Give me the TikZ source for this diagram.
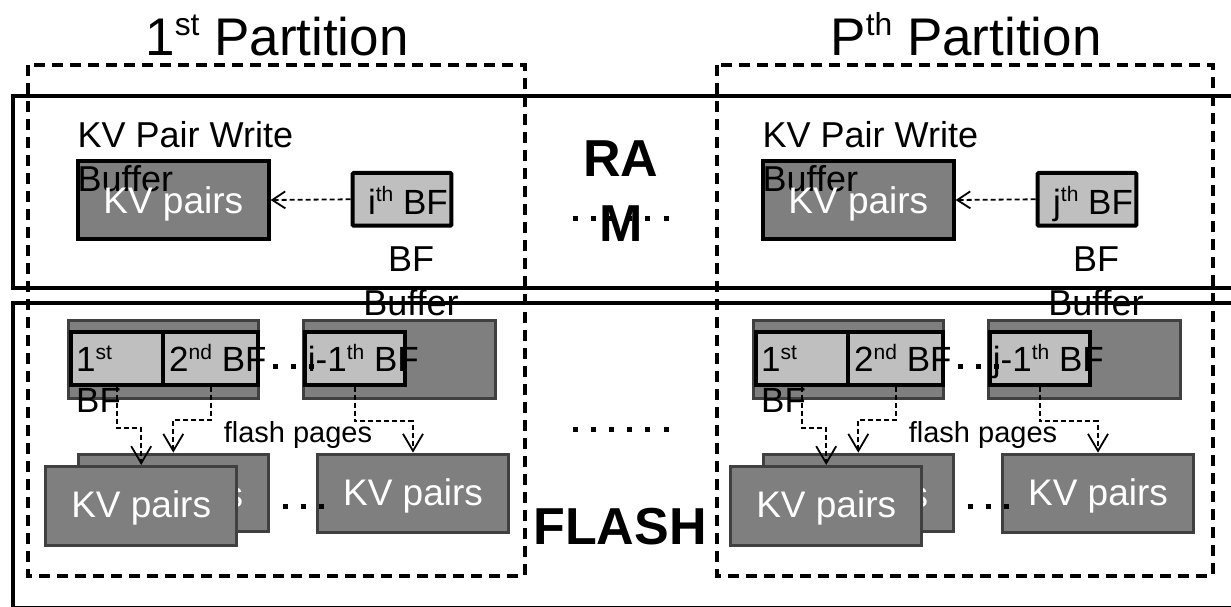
\documentclass[tikz,border=0pt]{standalone}
\usepackage{graphicx}
\usepackage{fontspec}
\setmainfont{Liberation Sans}
\usetikzlibrary{arrows.meta}
\definecolor{dgray}{HTML}{7F7F7F}
\definecolor{lgray}{HTML}{BFBFBF}
\definecolor{bgray}{HTML}{404040}
\newcommand\upsc[1]{\raisebox{0.36em}{\scalebox{0.6}{#1}}}
\tikzset{
 membox/.style={draw=black, line width=4pt},
 partbox/.style={draw=black, line width=4pt, dash pattern=on 11pt off 7pt},
 kvram/.style={draw=black, line width=4pt, fill=dgray, inner sep=0pt, minimum width=190.7pt, minimum height=77.4pt},
 bfbox/.style={draw=black, line width=4pt, fill=lgray, inner sep=0pt, minimum height=52.7pt},
 grpbox/.style={draw=bgray, line width=3pt, fill=dgray, inner sep=0pt, minimum width=190.5pt, minimum height=78pt},
 kvflash/.style={draw=bgray, line width=3pt, fill=dgray, inner sep=0pt, minimum width=191pt, minimum height=78pt},
 kvtxt/.style={text=white, font=\fontsize{37}{44}\selectfont, inner sep=0pt, anchor=base},
 lbltxt/.style={font=\fontsize{36}{44}\selectfont, inner sep=0pt},
 bftxt/.style={font=\fontsize{35}{40.3}\selectfont, inner sep=0pt},
 smalltxt/.style={font=\fontsize{29}{34}\selectfont, inner sep=0pt, anchor=base},
 farr/.style={line width=1.8pt, dash pattern=on 5pt off 3pt, -{Straight Barb[length=17pt,width=20pt,line width=1.8pt]}},
 rarr/.style={line width=1.8pt, dash pattern=on 5pt off 3pt, -{Straight Barb[length=13pt,width=17pt,line width=1.8pt]}},
 dotrow/.style={line width=5pt, dash pattern=on 5pt off 13.2pt},
 bigword/.style={font=\fontsize{52}{65}\selectfont\bfseries, inner sep=0pt, align=center, anchor=base},
 parttitle/.style={font=\fontsize{53}{60}\selectfont, inner sep=0pt, anchor=base},
}
\begin{document}
\begin{tikzpicture}[x=1pt,y=-1pt]
\useasboundingbox (0,0) rectangle (1231,606);
\clip (0,0) rectangle (1231,606);
\fill[white] (0,0) rectangle (1231,606);
% memory regions
\draw[membox] (13,95.7) rectangle (1250,287.7);
\draw[membox] (13,302.7) rectangle (1250,607.5);
% partitions
\draw[partbox] (27.6,65) rectangle (525,575.5);
\draw[partbox] (716.7,65) rectangle (1213,575.5);
\node[parttitle] (t1) at (277,55) {1\upsc{st} Partition};
\node[parttitle] (t2) at (966,55) {P\upsc{th} Partition};
% middle labels
\draw[dotrow] (572.5,218) -- (670,218);
\node[bigword] (ram) at (620.8,241.7) {RA\\M};
\draw[dotrow] (572.5,429) -- (670,429);
\node[bigword] (flash) at (620,544) {FLASH};
\foreach \dx/\p/\l in {0/a/i,685/b/j}{
\begin{scope}[xshift=\dx pt]
 % RAM part
 \node[kvram] (kvr\p) at (173.3,200) {};
 \node[lbltxt, anchor=base west, align=left] (wb\p) at (77.5,191.7) {KV Pair Write\\Buffer};
 \node[kvtxt] (kvrt\p) at (173.3,213) {KV pairs};
 \node[bfbox, minimum width=98.6pt, rounded corners=1pt] (bfr\p) at (402,199.3) {};
 \node[bftxt, anchor=base] (bfrt\p) at (408,214) {\l\upsc{th} BF};
 \draw[rarr] (bfr\p.west) -- (kvr\p.east);
 \node[lbltxt, anchor=base, align=center] (bb\p) at (411,315) {BF\\Buffer};
 % FLASH part
 \node[grpbox] (g1\p) at (163.3,359.5) {};
 \node[grpbox, minimum width=191.4pt] (g2\p) at (399.5,359.5) {};
 \node[bfbox, minimum width=92.3pt] (bf1\p) at (117.2,358.3) {};
 \node[bfbox, minimum width=94.7pt] (bf2\p) at (210.7,358.3) {};
 \node[bfbox, minimum width=99.4pt] (bfi\p) at (355,358.3) {};
 \node[bftxt, anchor=base west, align=left] (bf1t\p) at (76,412) {1\upsc{st}\\BF};
 \node[bftxt, anchor=base west] (bf2t\p) at (169,371.7) {2\upsc{nd} BF};
 \node[bftxt, anchor=base west] (bfit\p) at (307.7,371.7) {\l-1\upsc{th} BF};
 \draw[dotrow] (272.5,366.7) -- (320,366.7);
 % flash pages
 \node[kvflash, minimum width=190.3pt, minimum height=77.3pt] (kvb\p) at (173.3,492.8) {};
 \node[kvtxt] (kvbt\p) at (173.3,507) {KV pairs};
 \node[kvflash, minimum width=191.3pt, minimum height=78.7pt] (kvf\p) at (141.2,505.8) {};
 \node[kvtxt] (kvft\p) at (141.2,517) {KV pairs};
 \node[kvflash, minimum height=78.3pt] (kv3\p) at (413,493.3) {};
 \node[kvtxt] (kv3t\p) at (413,505) {KV pairs};
 \draw[dotrow] (282.5,506.7) -- (330,506.7);
 \draw[farr] (bf1\p.south) -- ++(0,41) -| (kvf\p.north);
 \draw[farr] (bf2\p.south) -- ++(0,33.6) -| (kvb\p.north);
 \draw[farr] (bfi\p.south) -- ++(0,34.6) -| (kv3\p.north);
 \node[smalltxt] (fp\p) at (298,442) {flash pages};
\end{scope}
}
\end{tikzpicture}
\end{document}
